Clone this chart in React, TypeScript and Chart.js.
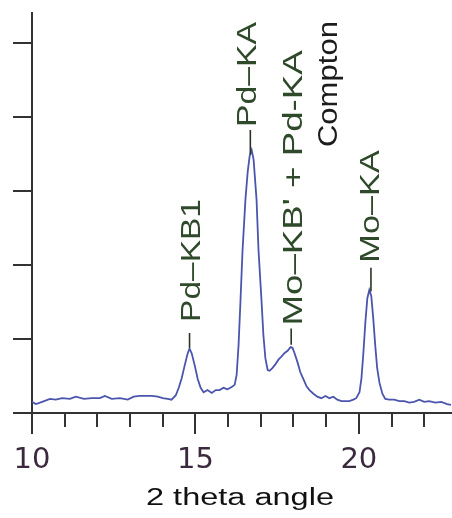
import React, { useEffect, useRef } from "react";
import { Chart, registerables } from "chart.js";

Chart.register(...registerables);

// ---- data ----
const X_VALUES = [
  10.0, 10.12, 10.31, 10.55, 10.73, 10.92, 11.16, 11.34, 11.59, 11.83,
  12.08, 12.23, 12.44, 12.69, 12.93, 13.11, 13.3, 13.48, 13.66, 13.85,
  14.0, 14.15, 14.27, 14.4, 14.49, 14.58, 14.67, 14.76, 14.82, 14.89,
  14.98, 15.07, 15.16, 15.25, 15.37, 15.5, 15.62, 15.74, 15.86, 15.98,
  16.11, 16.2, 16.26, 16.32, 16.38, 16.44, 16.53, 16.6, 16.66, 16.72,
  16.78, 16.87, 16.93, 17.02, 17.08, 17.14, 17.21, 17.27, 17.36, 17.45,
  17.54, 17.63, 17.73, 17.82, 17.91, 17.97, 18.03, 18.12, 18.21, 18.31,
  18.4, 18.49, 18.61, 18.73, 18.85, 18.98, 19.1, 19.22, 19.34, 19.47,
  19.59, 19.71, 19.83, 19.92, 20.02, 20.08, 20.14, 20.2, 20.26, 20.32,
  20.38, 20.44, 20.5, 20.56, 20.63, 20.72, 20.81, 20.93, 21.08, 21.24,
  21.39, 21.54, 21.69, 21.85, 22.0, 22.15, 22.34, 22.52, 22.7, 22.82,
];
const Y_VALUES = [
  15, 12, 15, 19, 18, 20, 19, 22, 19, 20,
  20, 23, 19, 20, 18, 22, 23, 23, 23, 22,
  20, 19, 18, 24, 34, 47, 64, 80, 87, 80,
  64, 46, 34, 28, 31, 27, 31, 31, 34, 32,
  35, 38, 51, 92, 153, 218, 288, 326, 347, 355,
  342, 288, 220, 153, 105, 74, 58, 57, 61, 66,
  72, 76, 81, 84, 89, 88, 81, 69, 55, 45,
  36, 31, 26, 22, 20, 23, 20, 22, 18, 16,
  16, 16, 18, 20, 28, 47, 82, 123, 155, 166,
  158, 128, 92, 61, 41, 26, 19, 18, 18, 16,
  16, 14, 15, 18, 15, 16, 14, 15, 12, 11,
];

const X_MIN = 10;
const X_MAX = 22.85;
const Y_MIN = 0;
const Y_MAX = 540;
const X_MINOR_STEP = 1;
const X_MAJOR_STEP = 5;
const Y_STEP = 100;
const X_TICK_LABELS = [10, 15, 20];
const X_TITLE = "2 theta angle";

// peak annotations
const PEAK_LABELS = ["Pd–KB1", "Pd–KA", "Mo–KB' + Pd-KA", "Compton", "Mo–KA"];
const PEAK_LABEL_X = [14.9, 16.62, 18.02, 19.1, 20.4];
const PEAK_LABEL_Y = [123, 386, 118, 359, 203];
const PEAK_LINE_X = [14.82, 16.68, 17.93, 20.37];
const PEAK_LINE_TOP = [108, 382, 114, 196];
const PEAK_LINE_BOTTOM = [88, 349, 92, 164];

// ---- styles ----
const GREEN = "#2f4a2b";
const LABEL_COLORS = [GREEN, GREEN, GREEN, "#1c1c1c", GREEN];
const LABEL_STRETCH = [1.24, 1.25, 1.36, 1.15, 1.27];
const AXIS_COLOR = "#333333";
const LINE_COLOR = "#4b55ad";

const annotationPlugin = {
  id: "peakAnnotations",
  afterDraw(chart: any) {
    const { ctx, scales, chartArea } = chart;
    const xs = scales.x;
    const ys = scales.y;
    ctx.save();

    // marker lines
    ctx.strokeStyle = "#2a3326";
    ctx.lineWidth = 1.6;
    PEAK_LINE_X.forEach((v, i) => {
      const px = xs.getPixelForValue(v);
      ctx.beginPath();
      ctx.moveTo(px, ys.getPixelForValue(PEAK_LINE_TOP[i]));
      ctx.lineTo(px, ys.getPixelForValue(PEAK_LINE_BOTTOM[i]));
      ctx.stroke();
    });

    // rotated peak labels
    ctx.font = '27px "Liberation Sans", Arial, sans-serif';
    ctx.textAlign = "left";
    ctx.textBaseline = "middle";
    PEAK_LABELS.forEach((t, i) => {
      ctx.save();
      ctx.translate(
        xs.getPixelForValue(PEAK_LABEL_X[i]),
        ys.getPixelForValue(PEAK_LABEL_Y[i])
      );
      ctx.rotate(-Math.PI / 2);
      ctx.scale(LABEL_STRETCH[i], 1);
      ctx.fillStyle = LABEL_COLORS[i];
      ctx.fillText(t, 0, 0);
      ctx.restore();
    });

    // x tick labels
    ctx.font = '29px "DejaVu Sans", sans-serif';
    ctx.textAlign = "center";
    ctx.textBaseline = "alphabetic";
    ctx.fillStyle = "#3b2a3e";
    X_TICK_LABELS.forEach((v) => {
      ctx.fillText(String(v), xs.getPixelForValue(v), chartArea.bottom + 55);
    });

    // x axis title (wide lettering)
    ctx.font = '23px "Liberation Sans", Arial, sans-serif';
    ctx.fillStyle = "#111111";
    const w = ctx.measureText(X_TITLE).width;
    const sx = 188 / w;
    ctx.save();
    ctx.translate((chartArea.left + chartArea.right) / 2 - 2, chartArea.bottom + 92);
    ctx.scale(sx, 1);
    ctx.textAlign = "center";
    ctx.fillText(X_TITLE, 0, 0);
    ctx.restore();

    ctx.restore();
  },
};

export default function App() {
  const canvasRef = useRef<HTMLCanvasElement | null>(null);

  useEffect(() => {
    const canvas = canvasRef.current;
    if (!canvas) return;
    const chart = new Chart(canvas, {
      type: "line",
      data: {
        datasets: [
          {
            data: X_VALUES.map((x, i) => ({ x, y: Y_VALUES[i] })),
            borderColor: LINE_COLOR,
            borderWidth: 1.8,
            pointRadius: 0,
            tension: 0,
            fill: false,
          },
        ],
      },
      options: {
        responsive: false,
        animation: false,
        devicePixelRatio: 1,
        layout: { padding: { left: 13, top: 13, right: 0, bottom: 91 } },
        plugins: { legend: { display: false }, tooltip: { enabled: false } },
        scales: {
          x: {
            type: "linear",
            position: "bottom",
            min: X_MIN,
            max: X_MAX,
            ticks: { display: false, stepSize: X_MINOR_STEP, includeBounds: false },
            grid: { drawOnChartArea: false, tickLength: 14, color: AXIS_COLOR, lineWidth: 2 },
            border: { display: true, color: AXIS_COLOR, width: 2 },
          },
          x2: {
            type: "linear",
            position: { y: 0 },
            min: X_MIN,
            max: X_MAX,
            ticks: { display: false, stepSize: X_MAJOR_STEP, includeBounds: false },
            grid: { drawOnChartArea: false, tickLength: 21, color: AXIS_COLOR, lineWidth: 2 },
            border: { display: false },
          },
          y: {
            type: "linear",
            position: "left",
            min: Y_MIN,
            max: Y_MAX,
            ticks: { display: false, stepSize: Y_STEP, includeBounds: false },
            grid: { drawOnChartArea: false, tickLength: 19, color: AXIS_COLOR, lineWidth: 2 },
            border: { display: true, color: AXIS_COLOR, width: 2 },
          },
        },
      } as any,
      plugins: [annotationPlugin],
    });
    return () => chart.destroy();
  }, []);

  return (
    <div
      style={{
        position: "absolute",
        left: 0,
        top: 0,
        width: 452,
        height: 518,
        background: "#ffffff",
      }}
    >
      <canvas ref={canvasRef} width={452} height={518} style={{ display: "block" }} />
    </div>
  );
}
